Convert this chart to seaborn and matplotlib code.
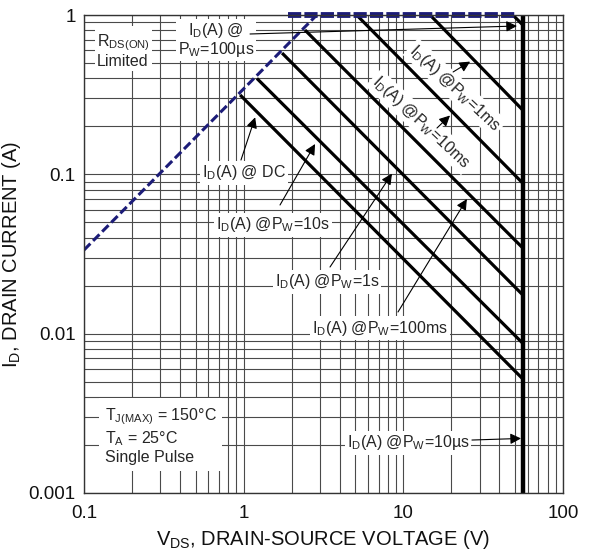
import matplotlib
matplotlib.use("Agg")
import matplotlib.pyplot as plt
import matplotlib.ticker as mticker
import numpy as np
import pandas as pd
import seaborn as sns

# ---- safe operating area data ----
curves = ["DC", "10s", "1s", "100ms", "10ms", "1ms", "100µs"]
v_start = [0.95, 1.21, 1.74, 2.42, 5.1, 14.7, 48.5]      # V, where each limit starts
i_start = [0.315, 0.40, 0.577, 0.805, 1.0, 1.0, 1.0]     # A
v_breakdown = 56.0                                        # V, drain-source limit
i_end = [0.0052, 0.0087, 0.0175, 0.0345, 0.088, 0.253, 0.866]  # A at v_breakdown

rds_v = [0.1, 2.87]          # R_DS(ON) limited boundary
rds_i = [0.0335, 1.0]
imax_v = [1.9, 50.0]         # maximum pulsed current boundary
imax_i = [1.0, 1.0]
pulse10us_i = [1.0, 0.001]   # 10 µs pulse, vertical at v_breakdown

x_ticks = [0.1, 1, 10, 100]
x_tick_labels = ["0.1", "1", "10", "100"]
y_ticks = [0.001, 0.01, 0.1, 1]
y_tick_labels = ["0.001", "0.01", "0.1", "1"]

# ---- styling ----
sns.set_theme(style="white")
plt.rcParams["font.family"] = ["Liberation Sans", "DejaVu Sans"]
plt.rcParams["mathtext.default"] = "regular"
plt.rcParams["lines.scale_dashes"] = False

fig = plt.figure(figsize=(5.93, 5.56), dpi=100)
ax = fig.add_axes([84 / 593, 1 - 493 / 556, 479 / 593, 478 / 556])
ax.set_xscale("log")
ax.set_yscale("log")
ax.set_xlim(0.1, 100)
ax.set_ylim(0.001, 1)

# log grid, major and minor
ax.xaxis.set_minor_locator(mticker.LogLocator(base=10, subs=np.arange(2, 10)))
ax.yaxis.set_minor_locator(mticker.LogLocator(base=10, subs=np.arange(2, 10)))
ax.grid(True, which="both", color="#4a4a4a", linewidth=0.8)
ax.set_axisbelow(True)

# constant-power pulse limits
rows = []
for name, vs, is_, ie in zip(curves, v_start, i_start, i_end):
    rows.append({"curve": name, "V": vs, "I": is_, "k": 0})
    rows.append({"curve": name, "V": v_breakdown, "I": ie, "k": 1})
soa = pd.DataFrame(rows)
sns.lineplot(data=soa, x="V", y="I", units="curve", estimator=None, sort=False,
             color="black", linewidth=2.3, ax=ax, legend=False,
             solid_capstyle="butt")

# 10 µs limit: vertical line at breakdown voltage
vline = pd.DataFrame({"V": [v_breakdown, v_breakdown], "I": pulse10us_i})
sns.lineplot(data=vline, x="V", y="I", estimator=None, sort=False,
             color="black", linewidth=3.2, ax=ax, legend=False)

# R_DS(ON) limit and current limit (dashed navy)
navy = "#1c1c78"
rds = pd.DataFrame({"V": rds_v, "I": rds_i})
ax.plot(rds["V"], rds["I"], color=navy, linewidth=2.2, dashes=(6.5, 2.8),
        solid_capstyle="butt", dash_capstyle="butt")
imax = pd.DataFrame({"V": imax_v, "I": imax_i})
ax.plot(imax["V"], imax["I"], color=navy, linewidth=4.2, dashes=(9.5, 2.3),
        dash_capstyle="butt", clip_on=False)

for s in ax.spines.values():
    s.set_color("#333333")
    s.set_linewidth(1.0)

ax.set_xticks(x_ticks)
ax.set_xticklabels(x_tick_labels)
ax.set_yticks(y_ticks)
ax.set_yticklabels(y_tick_labels)
ax.tick_params(axis="both", which="both", length=0, labelsize=13.5,
               labelcolor="#111111")
ax.tick_params(axis="x", pad=9)
ax.tick_params(axis="y", pad=6)

ax.set_xlabel("V$_{DS}$, DRAIN-SOURCE VOLTAGE (V)", fontsize=14.5,
              color="#111111", labelpad=4)
ax.set_ylabel("I$_D$, DRAIN CURRENT (A)", fontsize=14.5, color="#111111",
              labelpad=4)

# ---- annotations ----
fs = 11.5
box = dict(facecolor="white", edgecolor="none", pad=1.5)
arrow = dict(arrowstyle="-|>", color="black", lw=0.8, mutation_scale=16,
             shrinkA=0, shrinkB=0)

ax.text(0.1206, 0.60, "R$_{DS(ON)}$\nLimited", fontsize=fs, ha="left",
        va="center", bbox=box, linespacing=1.1)

ax.text(0.671, 0.697, "I$_D$(A) @\nP$_W$=100µs", fontsize=fs, ha="center",
        va="center", bbox=box, linespacing=1.05)
ax.annotate("", xy=(51.5, 0.853), xytext=(1.096, 0.76), arrowprops=arrow)

ax.text(1.005, 0.102, "I$_D$(A) @ DC", fontsize=fs, ha="center",
        va="center", bbox=box)
ax.annotate("", xy=(1.18, 0.228), xytext=(0.962, 0.123), arrowprops=arrow)

ax.text(1.527, 0.0481, "I$_D$(A) @P$_W$=10s", fontsize=fs, ha="center",
        va="center", bbox=box)
ax.annotate("", xy=(2.8, 0.155), xytext=(1.689, 0.0642), arrowprops=arrow)

ax.text(3.325, 0.0211, "I$_D$(A) @P$_W$=1s", fontsize=fs, ha="center",
        va="center", bbox=box)
ax.annotate("", xy=(8.49, 0.101), xytext=(3.473, 0.0262), arrowprops=arrow)

ax.text(7.14, 0.01085, "I$_D$(A) @P$_W$=100ms", fontsize=fs, ha="center",
        va="center", bbox=box)
ax.annotate("", xy=(25.0, 0.070), xytext=(9.26, 0.01368), arrowprops=arrow)

ax.text(12.9, 0.213, "I$_D$(A) @P$_W$=10ms", fontsize=fs, ha="center",
        va="center", rotation=-43, rotation_mode="anchor", bbox=box)
ax.annotate("", xy=(19.6, 0.234), xytext=(16.25, 0.1953), arrowprops=arrow)

ax.text(21.1, 0.348, "I$_D$(A) @P$_W$=1ms", fontsize=fs, ha="center",
        va="center", rotation=-43, rotation_mode="anchor", bbox=box)
ax.annotate("", xy=(26.2, 0.51), xytext=(20.5, 0.439), arrowprops=arrow)

ax.text(10.7, 0.00206, "I$_D$(A) @P$_W$=10µs", fontsize=fs, ha="center",
        va="center", bbox=box)
ax.annotate("", xy=(54.6, 0.0022), xytext=(26.9, 0.00215), arrowprops=arrow)

ax.text(0.1353, 0.00228, "T$_{J(MAX)}$ = 150°C\nT$_A$ = 25°C\nSingle Pulse",
        fontsize=fs, ha="left", va="center", linespacing=1.15,
        bbox=dict(facecolor="white", edgecolor="none", pad=4))

fig.savefig("out.png", dpi=100, facecolor="white")
